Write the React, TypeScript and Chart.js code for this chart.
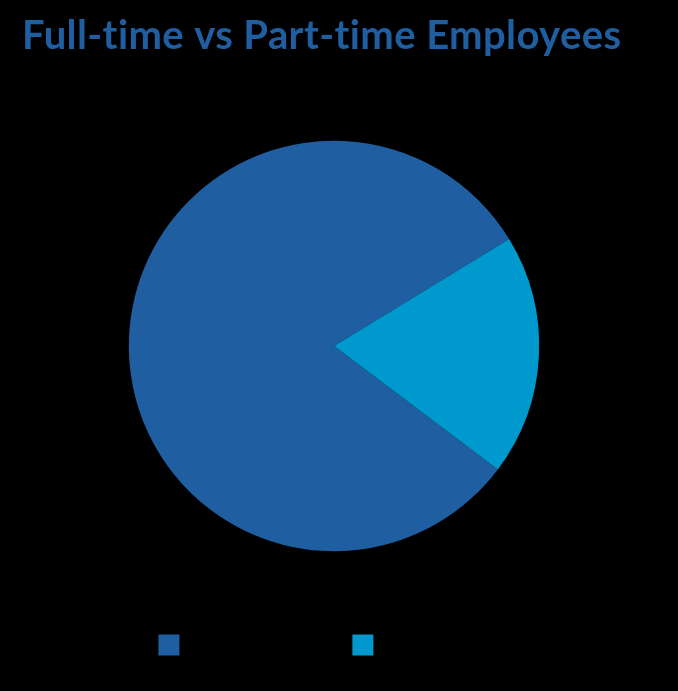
import React, { useEffect, useRef } from "react";
import { Chart, registerables } from "chart.js";

Chart.register(...registerables);

const categories = ["Full-time", "Part-time"];
const employeeShare = [81, 19];
const sliceColors = ["#1F5FA1", "#0099CE"];
const titleText = "Full-time vs Part-time Employees";

const spacingPlugin = {
  id: "titleSpacing",
  beforeDraw(chart: any) {
    (chart.ctx as any).letterSpacing = "0.4px";
  },
};

export default function App() {
  const canvasRef = useRef<HTMLCanvasElement | null>(null);

  useEffect(() => {
    document.body.style.margin = "0";
    document.body.style.background = "#000";
    const canvas = canvasRef.current;
    if (!canvas) return;
    const chart = new Chart(canvas, {
      type: "pie",
      data: {
        labels: categories,
        datasets: [
          {
            data: employeeShare,
            backgroundColor: sliceColors,
            borderWidth: 0,
            radius: "83.4%",
          },
        ],
      },
      plugins: [spacingPlugin],
      options: {
        responsive: true,
        maintainAspectRatio: false,
        animation: false,
        rotation: 127,
        layout: { padding: { left: 22, right: 32, top: 0, bottom: 21 } },
        plugins: {
          title: {
            display: true,
            text: titleText,
            align: "start",
            color: "#1F5FA1",
            font: { family: "Lato", size: 40, weight: "bold" },
            padding: { top: 12, bottom: 40 },
          },
          legend: {
            display: true,
            position: "bottom",
            labels: {
              boxWidth: 21,
              boxHeight: 21,
              padding: 38,
              color: "#000",
              font: { family: "Lato", size: 30 },
            },
          },
          tooltip: { enabled: false },
        },
      },
    });
    return () => chart.destroy();
  }, []);

  return (
    <div style={{ width: 678, height: 691, background: "#000", position: "relative" }}>
      <canvas ref={canvasRef} />
    </div>
  );
}
